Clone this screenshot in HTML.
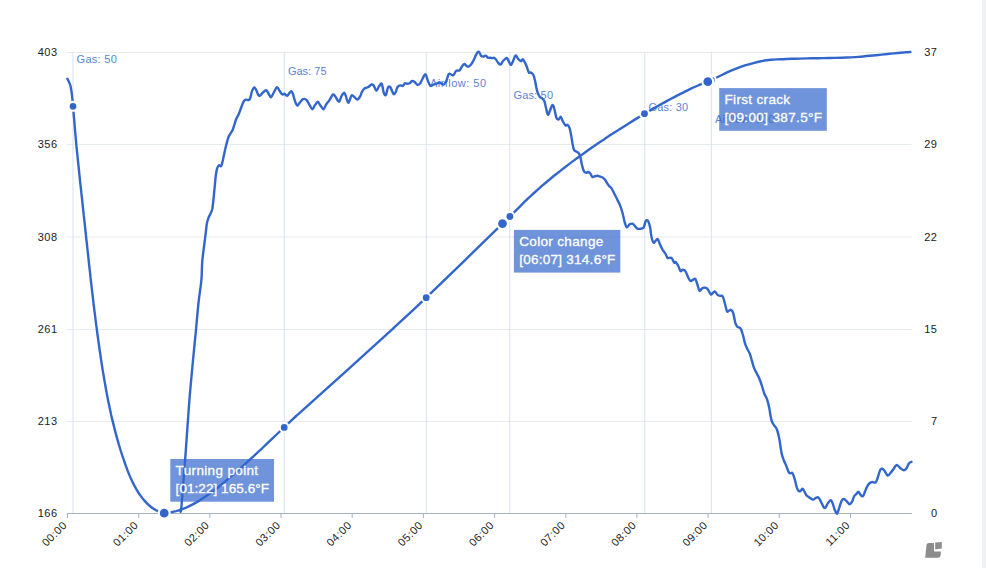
<!DOCTYPE html>
<html><head><meta charset="utf-8"><style>
html,body{margin:0;padding:0;background:#fff;width:986px;height:568px;overflow:hidden}
svg{display:block}
text{font-family:"Liberation Sans",sans-serif}
.ax{font-size:11px;letter-spacing:0.5px;fill:#222}
.ann{font-size:11px;fill:#5b84d6}
.tt{font-size:13.5px;fill:#fff;stroke:#fff;stroke-width:0.3px}
</style></head><body>
<svg width="986" height="568" viewBox="0 0 986 568">
<rect x="982" y="0" width="4" height="568" fill="#eff2f4"/>
<line x1="67" x2="911.5" y1="52.5" y2="52.5" stroke="#e6ebee" stroke-width="1"/>
<line x1="67" x2="911.5" y1="144.5" y2="144.5" stroke="#e6ebee" stroke-width="1"/>
<line x1="67" x2="911.5" y1="237" y2="237" stroke="#e6ebee" stroke-width="1"/>
<line x1="67" x2="911.5" y1="329.5" y2="329.5" stroke="#e6ebee" stroke-width="1"/>
<line x1="67" x2="911.5" y1="421.5" y2="421.5" stroke="#e6ebee" stroke-width="1"/>
<line x1="73" x2="73" y1="52" y2="513" stroke="#d9e2f3" stroke-width="1"/>
<line x1="284.3" x2="284.3" y1="52" y2="513" stroke="#d9e2f3" stroke-width="1"/>
<line x1="426.3" x2="426.3" y1="52" y2="513" stroke="#d9e2f3" stroke-width="1"/>
<line x1="509.8" x2="509.8" y1="52" y2="513" stroke="#d9e2f3" stroke-width="1"/>
<line x1="644.8" x2="644.8" y1="52" y2="513" stroke="#d9e2f3" stroke-width="1"/>
<line x1="711.3" x2="711.3" y1="52" y2="513" stroke="#d9e2f3" stroke-width="1"/>
<line x1="67" x2="911.8" y1="513.5" y2="513.5" stroke="#a3b3bf" stroke-width="1"/>
<line x1="67.5" x2="67.5" y1="513.5" y2="518" stroke="#a3b3bf" stroke-width="1"/>
<line x1="138.7" x2="138.7" y1="513.5" y2="518" stroke="#a3b3bf" stroke-width="1"/>
<line x1="209.9" x2="209.9" y1="513.5" y2="518" stroke="#a3b3bf" stroke-width="1"/>
<line x1="281.0" x2="281.0" y1="513.5" y2="518" stroke="#a3b3bf" stroke-width="1"/>
<line x1="352.2" x2="352.2" y1="513.5" y2="518" stroke="#a3b3bf" stroke-width="1"/>
<line x1="423.4" x2="423.4" y1="513.5" y2="518" stroke="#a3b3bf" stroke-width="1"/>
<line x1="494.6" x2="494.6" y1="513.5" y2="518" stroke="#a3b3bf" stroke-width="1"/>
<line x1="565.8" x2="565.8" y1="513.5" y2="518" stroke="#a3b3bf" stroke-width="1"/>
<line x1="636.9" x2="636.9" y1="513.5" y2="518" stroke="#a3b3bf" stroke-width="1"/>
<line x1="708.1" x2="708.1" y1="513.5" y2="518" stroke="#a3b3bf" stroke-width="1"/>
<line x1="779.3" x2="779.3" y1="513.5" y2="518" stroke="#a3b3bf" stroke-width="1"/>
<line x1="850.5" x2="850.5" y1="513.5" y2="518" stroke="#a3b3bf" stroke-width="1"/>
<text x="57.5" y="56.1" text-anchor="end" class="ax">403</text>
<text x="57.5" y="148.3" text-anchor="end" class="ax">356</text>
<text x="57.5" y="240.6" text-anchor="end" class="ax">308</text>
<text x="57.5" y="332.8" text-anchor="end" class="ax">261</text>
<text x="57.5" y="425.1" text-anchor="end" class="ax">213</text>
<text x="57.5" y="517.3" text-anchor="end" class="ax">166</text>
<text x="937.5" y="56.1" text-anchor="end" class="ax">37</text>
<text x="937.5" y="148.3" text-anchor="end" class="ax">29</text>
<text x="937.5" y="240.6" text-anchor="end" class="ax">22</text>
<text x="937.5" y="332.8" text-anchor="end" class="ax">15</text>
<text x="937.5" y="425.1" text-anchor="end" class="ax">7</text>
<text x="937.5" y="517.3" text-anchor="end" class="ax">0</text>
<text transform="translate(64.8,523) rotate(-45)" text-anchor="end" class="ax" dy="4">00:00</text>
<text transform="translate(136.0,523) rotate(-45)" text-anchor="end" class="ax" dy="4">01:00</text>
<text transform="translate(207.2,523) rotate(-45)" text-anchor="end" class="ax" dy="4">02:00</text>
<text transform="translate(278.3,523) rotate(-45)" text-anchor="end" class="ax" dy="4">03:00</text>
<text transform="translate(349.5,523) rotate(-45)" text-anchor="end" class="ax" dy="4">04:00</text>
<text transform="translate(420.7,523) rotate(-45)" text-anchor="end" class="ax" dy="4">05:00</text>
<text transform="translate(491.9,523) rotate(-45)" text-anchor="end" class="ax" dy="4">06:00</text>
<text transform="translate(563.1,523) rotate(-45)" text-anchor="end" class="ax" dy="4">07:00</text>
<text transform="translate(634.2,523) rotate(-45)" text-anchor="end" class="ax" dy="4">08:00</text>
<text transform="translate(705.4,523) rotate(-45)" text-anchor="end" class="ax" dy="4">09:00</text>
<text transform="translate(776.6,523) rotate(-45)" text-anchor="end" class="ax" dy="4">10:00</text>
<text transform="translate(847.8,523) rotate(-45)" text-anchor="end" class="ax" dy="4">11:00</text>
<text x="76.6" y="63.1" class="ann" textLength="40.2" lengthAdjust="spacing">Gas: 50</text>
<text x="287.9" y="75.0" class="ann" textLength="38.6" lengthAdjust="spacing">Gas: 75</text>
<text x="429.9" y="87.0" class="ann" textLength="56.1" lengthAdjust="spacing">Airflow: 50</text>
<text x="513.4" y="98.9" class="ann" textLength="39.6" lengthAdjust="spacing">Gas: 50</text>
<text x="648.4" y="110.9" class="ann" textLength="39.7" lengthAdjust="spacing">Gas: 30</text>
<text x="714.9" y="122.8" class="ann" textLength="59.8" lengthAdjust="spacing">Airflow: 100</text>
<path d="M180.3,510.4 C180.4,510.3 180.6,514.1 181.1,509.8 C181.6,505.5 182.3,495.8 183.2,484.5 C184.1,473.2 185.4,456.3 186.4,442.2 C187.4,428.1 188.3,413.6 189.4,400.0 C190.5,386.4 191.9,372.2 193.0,360.3 C194.1,348.4 195.2,338.5 196.1,328.6 C197.0,318.7 197.8,309.2 198.7,301.1 C199.6,293.0 200.8,286.7 201.4,280.0 C202.0,273.3 201.7,268.2 202.3,260.9 C203.0,253.6 204.6,242.5 205.3,236.3 C206.1,230.2 206.3,227.1 206.8,224.0 C207.3,220.9 207.6,220.3 208.5,217.8 C209.4,215.3 211.2,213.5 212.2,209.2 C213.1,204.9 213.6,197.7 214.2,191.9 C214.8,186.1 215.4,178.5 215.9,174.6 C216.4,170.7 216.6,170.1 217.1,168.5 C217.6,166.9 218.2,165.6 218.9,165.2 C219.6,164.8 220.5,166.9 221.2,166.0 C221.9,165.1 222.2,163.0 222.9,159.9 C223.6,156.8 224.7,151.2 225.6,147.5 C226.5,143.8 227.5,140.0 228.2,137.8 C228.9,135.6 229.3,135.6 230.0,134.3 C230.7,133.0 231.9,131.5 232.6,129.9 C233.3,128.3 233.8,126.4 234.4,124.6 C235.0,122.8 235.4,121.0 236.1,119.3 C236.8,117.5 237.9,116.1 238.8,114.1 C239.7,112.0 240.6,109.1 241.4,107.0 C242.2,104.9 243.0,102.6 243.7,101.4 C244.4,100.2 245.0,99.8 245.8,99.6 C246.6,99.4 247.8,100.2 248.5,100.0 C249.2,99.8 249.6,99.7 250.2,98.2 C250.8,96.7 251.3,92.9 252.0,91.1 C252.7,89.3 253.4,87.9 254.1,87.6 C254.8,87.3 255.2,88.2 255.9,89.4 C256.6,90.6 257.5,93.7 258.2,94.7 C258.9,95.7 259.2,95.9 259.9,95.6 C260.6,95.3 261.6,93.8 262.6,92.9 C263.6,92.0 265.1,90.2 266.1,90.3 C267.1,90.4 267.9,92.6 268.7,93.8 C269.5,95.0 270.1,97.6 271.0,97.3 C271.9,97.0 273.0,93.7 274.0,92.0 C275.0,90.3 276.1,87.4 277.0,87.1 C277.9,86.8 278.5,89.1 279.3,90.3 C280.1,91.5 281.1,93.7 282.0,94.3 C282.9,94.9 283.8,93.5 284.6,93.8 C285.5,94.1 286.3,96.0 287.1,95.9 C287.9,95.8 288.5,94.1 289.2,93.3 C289.9,92.5 290.7,91.1 291.3,91.2 C291.9,91.3 292.3,92.1 292.9,93.8 C293.5,95.5 294.3,99.2 295.0,101.2 C295.7,103.2 296.5,105.2 297.2,105.5 C297.9,105.8 298.3,104.4 299.3,103.3 C300.3,102.2 301.8,99.6 303.0,99.1 C304.2,98.6 305.6,99.1 306.7,100.2 C307.8,101.3 308.8,104.0 309.8,105.5 C310.8,107.0 311.6,109.3 312.5,109.2 C313.4,109.1 314.2,106.1 315.1,104.9 C316.0,103.7 316.9,101.7 317.8,101.8 C318.7,101.9 319.4,104.3 320.4,105.5 C321.4,106.7 322.6,109.4 323.6,109.2 C324.6,109.0 325.2,105.9 326.2,104.4 C327.2,102.9 328.2,101.9 329.4,100.2 C330.5,98.5 332.1,94.9 333.1,94.4 C334.2,93.9 334.7,95.8 335.7,97.0 C336.7,98.2 337.9,102.0 338.9,101.8 C339.9,101.6 340.7,97.4 341.6,95.9 C342.5,94.4 343.5,92.8 344.2,92.8 C344.9,92.8 345.1,94.2 345.8,95.9 C346.5,97.6 347.4,102.9 348.4,102.8 C349.4,102.7 350.5,96.3 351.6,95.4 C352.7,94.5 353.8,96.8 354.8,97.5 C355.8,98.2 356.5,99.8 357.4,99.6 C358.3,99.4 359.3,97.8 360.1,96.5 C360.9,95.2 361.3,93.1 362.1,91.7 C362.9,90.3 363.8,89.0 364.8,88.3 C365.8,87.6 366.8,87.9 367.9,87.3 C369.0,86.7 370.6,84.8 371.6,84.5 C372.6,84.2 372.9,84.4 373.7,85.4 C374.5,86.4 375.5,90.5 376.4,90.7 C377.3,90.9 378.1,87.6 379.0,86.4 C379.9,85.2 380.9,82.7 381.7,83.8 C382.5,84.9 383.1,90.9 383.8,92.8 C384.5,94.7 385.2,95.8 385.9,94.9 C386.6,94.0 387.3,88.8 388.0,87.5 C388.7,86.2 389.4,86.4 390.1,87.0 C390.8,87.6 391.6,90.0 392.2,91.2 C392.8,92.4 393.2,94.3 393.8,94.4 C394.4,94.5 395.3,92.9 395.9,91.7 C396.5,90.5 396.8,88.0 397.5,87.0 C398.2,86.0 399.3,85.6 400.2,85.4 C401.1,85.2 402.0,86.2 402.8,85.9 C403.6,85.6 404.2,83.7 404.9,83.3 C405.6,82.9 406.2,83.8 407.0,83.8 C407.8,83.8 408.9,83.8 409.7,83.3 C410.5,82.8 411.0,81.4 411.8,81.1 C412.6,80.8 413.4,81.1 414.4,81.7 C415.4,82.3 416.6,84.5 417.6,84.8 C418.6,85.1 419.5,84.3 420.3,83.3 C421.1,82.3 421.5,80.5 422.4,79.0 C423.3,77.5 424.6,74.1 425.5,74.3 C426.4,74.5 426.8,78.0 427.6,79.9 C428.4,81.8 429.3,84.9 430.3,85.7 C431.3,86.5 432.4,84.9 433.5,84.6 C434.6,84.2 435.6,83.9 436.6,83.6 C437.7,83.2 438.7,82.3 439.8,82.5 C440.9,82.7 442.4,84.8 443.5,84.6 C444.6,84.4 445.2,83.2 446.1,81.5 C447.0,79.8 447.9,75.2 448.8,74.1 C449.7,72.9 450.6,74.4 451.4,74.6 C452.2,74.8 452.7,75.7 453.5,75.1 C454.3,74.5 455.2,71.7 456.2,70.9 C457.2,70.1 458.5,71.0 459.4,70.4 C460.3,69.8 460.7,68.3 461.5,67.2 C462.3,66.1 463.3,64.3 464.1,64.0 C464.9,63.7 465.5,65.1 466.2,65.6 C466.9,66.0 467.5,66.9 468.3,66.7 C469.1,66.5 470.1,65.7 471.0,64.6 C471.9,63.5 472.8,61.8 473.6,60.3 C474.4,58.8 475.0,57.0 475.7,55.6 C476.4,54.2 477.3,52.4 477.9,51.9 C478.5,51.4 478.9,51.8 479.4,52.4 C479.9,53.0 480.4,54.9 481.0,55.6 C481.6,56.3 482.3,56.6 483.1,56.6 C483.9,56.6 485.0,55.4 485.8,55.6 C486.6,55.8 487.2,57.4 487.9,57.7 C488.6,58.1 489.3,57.6 490.0,57.7 C490.7,57.8 491.5,58.2 492.1,58.2 C492.7,58.2 493.1,57.5 493.7,57.7 C494.3,57.9 495.1,58.5 495.8,59.3 C496.5,60.1 497.1,61.5 497.9,62.4 C498.7,63.3 499.8,64.8 500.6,64.6 C501.4,64.4 501.9,62.3 502.8,61.2 C503.8,60.1 505.5,58.4 506.3,58.0 C507.1,57.6 507.0,58.0 507.7,59.1 C508.4,60.2 509.8,64.2 510.6,64.7 C511.4,65.2 511.9,63.4 512.7,61.9 C513.5,60.4 514.6,56.1 515.5,55.6 C516.4,55.1 517.4,58.2 518.3,59.1 C519.2,60.0 520.4,61.2 521.1,61.2 C521.9,61.2 522.2,59.0 522.8,59.1 C523.4,59.2 523.9,60.6 524.6,61.9 C525.3,63.2 526.1,65.0 526.8,66.8 C527.5,68.6 528.2,71.5 528.9,72.5 C529.6,73.5 530.2,72.0 531.0,72.5 C531.8,73.0 532.8,73.8 533.5,75.3 C534.2,76.8 534.6,79.1 535.2,81.6 C535.8,84.1 536.2,87.6 536.9,90.1 C537.6,92.6 538.5,95.0 539.4,96.4 C540.3,97.8 541.5,97.7 542.3,98.5 C543.1,99.3 543.8,99.9 544.4,101.3 C545.0,102.7 545.2,104.8 545.8,107.0 C546.4,109.2 547.2,114.1 547.9,114.7 C548.6,115.3 549.2,112.1 550.0,110.5 C550.8,108.9 551.7,105.2 552.4,104.9 C553.1,104.6 553.6,106.3 554.2,108.4 C554.9,110.5 555.6,115.6 556.3,117.5 C557.0,119.4 557.8,119.7 558.5,119.6 C559.2,119.5 560.1,116.5 560.8,116.8 C561.5,117.1 562.0,119.8 562.8,121.3 C563.6,122.8 564.8,125.0 565.6,125.6 C566.4,126.2 567.0,124.3 567.7,124.9 C568.4,125.5 569.3,127.2 569.9,129.1 C570.5,131.0 570.8,133.5 571.3,136.1 C571.8,138.7 572.2,142.2 572.7,144.6 C573.2,146.9 573.4,149.0 574.1,150.2 C574.8,151.4 576.1,151.3 576.9,151.9 C577.7,152.5 578.4,152.8 579.0,153.7 C579.6,154.6 579.9,155.5 580.4,157.3 C580.9,159.1 581.2,162.0 581.8,164.3 C582.4,166.6 583.2,169.9 583.9,171.3 C584.6,172.7 585.4,172.6 586.1,172.7 C586.8,172.8 587.5,171.9 588.2,172.0 C588.9,172.1 589.6,172.7 590.3,173.5 C591.0,174.3 591.7,176.5 592.4,177.0 C593.1,177.5 593.7,176.5 594.5,176.3 C595.3,176.1 596.4,175.8 597.3,175.8 C598.2,175.8 599.1,176.2 600.1,176.5 C601.1,176.8 602.2,177.1 603.0,177.7 C603.8,178.2 604.4,178.9 605.1,179.8 C605.8,180.7 606.5,182.2 607.2,183.3 C607.9,184.4 608.6,185.3 609.3,186.1 C610.0,186.9 610.6,187.0 611.4,188.2 C612.2,189.4 613.3,191.7 614.2,193.5 C615.1,195.3 616.1,197.2 617.0,199.1 C617.9,201.0 618.9,202.3 619.8,204.7 C620.7,207.0 621.8,210.3 622.6,213.2 C623.4,216.1 624.0,220.0 624.7,222.3 C625.4,224.7 626.0,227.0 626.8,227.3 C627.6,227.7 628.6,225.0 629.6,224.4 C630.6,223.8 631.5,223.3 632.5,223.7 C633.5,224.0 634.5,225.7 635.3,226.5 C636.1,227.3 636.5,228.3 637.4,228.7 C638.3,229.1 639.8,228.9 640.9,228.7 C642.0,228.5 642.9,228.6 643.7,227.3 C644.5,226.0 645.1,222.0 645.8,220.9 C646.5,219.8 647.3,219.8 648.0,220.9 C648.7,222.0 649.5,224.6 650.1,227.3 C650.7,230.0 650.9,234.5 651.5,237.1 C652.1,239.7 652.9,242.1 653.6,242.7 C654.3,243.3 655.0,241.2 655.7,240.6 C656.4,240.0 657.1,238.6 657.8,239.2 C658.5,239.8 659.1,242.4 659.9,244.2 C660.7,246.0 661.8,248.2 662.7,249.8 C663.7,251.4 664.8,252.6 665.6,254.0 C666.4,255.4 667.0,257.6 667.7,258.2 C668.4,258.8 669.2,257.6 669.9,257.7 C670.6,257.8 671.3,257.7 672.0,258.5 C672.7,259.3 673.6,262.1 674.2,262.7 C674.8,263.3 674.9,261.4 675.6,262.0 C676.3,262.6 677.6,264.7 678.4,266.2 C679.2,267.7 679.8,270.5 680.5,271.1 C681.2,271.7 681.8,269.7 682.6,269.7 C683.4,269.7 684.5,269.8 685.4,271.1 C686.3,272.4 687.4,275.9 688.2,277.5 C689.0,279.1 689.6,280.6 690.4,281.0 C691.2,281.4 692.4,280.0 693.2,279.6 C694.0,279.2 694.6,278.1 695.3,278.9 C696.0,279.7 696.7,282.5 697.4,284.5 C698.1,286.5 698.8,290.1 699.5,290.8 C700.2,291.5 700.9,289.2 701.6,288.7 C702.3,288.2 702.9,287.8 703.7,287.7 C704.5,287.6 705.7,287.5 706.5,288.0 C707.3,288.5 708.0,289.7 708.7,290.8 C709.4,291.9 710.1,294.0 710.8,294.4 C711.5,294.8 712.2,293.5 712.9,293.0 C713.6,292.5 714.2,291.1 715.0,291.5 C715.8,291.9 716.9,294.4 717.8,295.1 C718.7,295.8 719.8,295.6 720.6,295.8 C721.4,296.0 722.0,295.2 722.7,296.5 C723.4,297.8 724.2,301.0 724.9,303.5 C725.6,306.0 726.3,310.1 727.0,311.3 C727.7,312.5 728.4,310.8 729.1,310.6 C729.8,310.4 730.5,309.4 731.2,309.9 C731.9,310.4 732.6,311.2 733.3,313.4 C734.0,315.6 734.7,321.0 735.4,323.2 C736.1,325.4 736.7,326.0 737.5,326.8 C738.3,327.6 739.5,327.0 740.4,328.2 C741.3,329.4 742.0,331.6 742.7,334.1 C743.5,336.6 744.2,340.9 744.9,343.2 C745.6,345.5 746.2,346.4 747.0,348.2 C747.8,350.0 749.0,351.7 749.8,353.8 C750.6,355.9 751.2,358.5 751.9,360.8 C752.6,363.1 753.2,365.8 754.0,367.9 C754.8,370.0 755.9,371.6 756.8,373.5 C757.7,375.4 758.8,377.2 759.6,379.2 C760.4,381.2 761.1,383.3 761.8,385.5 C762.5,387.7 763.4,390.9 763.9,392.5 C764.4,394.1 764.4,393.9 764.9,395.0 C765.4,396.1 766.3,397.1 767.0,399.2 C767.7,401.3 768.6,404.9 769.2,407.7 C769.8,410.5 770.1,413.8 770.6,416.1 C771.1,418.5 771.4,420.3 772.0,421.8 C772.6,423.3 773.3,424.0 774.1,425.3 C774.9,426.6 776.1,427.5 776.9,429.5 C777.7,431.5 778.4,434.6 779.0,437.3 C779.6,440.0 779.9,442.9 780.4,445.7 C780.9,448.5 781.2,451.7 781.8,454.2 C782.4,456.7 783.2,458.6 783.9,460.5 C784.6,462.4 785.4,463.5 786.1,465.4 C786.9,467.2 787.7,470.3 788.4,471.6 C789.1,472.9 789.5,473.1 790.1,473.3 C790.7,473.5 791.5,472.3 792.1,472.7 C792.7,473.1 793.1,474.2 793.6,475.6 C794.1,477.0 794.7,479.2 795.3,481.3 C795.9,483.4 796.4,486.6 797.0,488.2 C797.6,489.8 798.1,490.5 798.7,491.0 C799.3,491.5 799.8,491.4 800.4,491.0 C801.0,490.6 801.8,488.9 802.4,488.8 C803.0,488.7 803.3,489.5 803.9,490.5 C804.5,491.5 805.4,493.9 806.2,495.0 C807.1,496.1 807.9,496.5 809.0,497.3 C810.1,498.1 811.9,499.5 813.0,499.6 C814.1,499.7 815.0,498.3 815.9,497.9 C816.8,497.5 817.5,497.0 818.2,497.3 C818.9,497.6 819.2,498.5 819.9,499.6 C820.6,500.8 821.5,502.9 822.2,504.2 C822.9,505.5 823.3,507.1 823.9,507.6 C824.5,508.1 824.9,508.1 825.6,507.4 C826.3,506.6 827.0,504.3 827.9,503.1 C828.8,501.9 830.0,500.2 830.8,500.2 C831.6,500.2 831.8,501.5 832.5,503.1 C833.2,504.7 834.0,508.1 834.8,509.9 C835.6,511.6 836.4,514.0 837.1,513.6 C837.9,513.2 838.5,509.7 839.3,507.6 C840.0,505.5 840.8,502.2 841.6,500.8 C842.4,499.4 843.0,498.9 843.9,499.0 C844.8,499.1 845.8,500.4 846.8,501.3 C847.8,502.2 848.8,504.1 849.6,504.2 C850.5,504.3 851.1,503.2 851.9,501.9 C852.7,500.6 853.4,497.5 854.2,496.2 C855.0,494.9 855.8,494.7 856.5,493.9 C857.2,493.1 857.6,491.5 858.2,491.6 C858.9,491.7 859.6,493.8 860.4,494.6 C861.2,495.4 862.1,496.7 862.9,496.2 C863.7,495.7 864.3,493.1 865.0,491.5 C865.7,489.9 866.3,488.1 867.1,486.7 C867.9,485.3 868.9,483.8 869.8,483.0 C870.7,482.2 871.4,482.1 872.4,482.0 C873.4,481.9 874.7,483.2 875.6,482.5 C876.5,481.8 876.9,479.8 877.7,477.7 C878.5,475.6 879.5,471.3 880.3,469.8 C881.1,468.3 881.8,468.6 882.5,468.8 C883.2,469.0 883.7,469.8 884.6,470.9 C885.5,472.0 886.7,475.2 887.7,475.6 C888.7,476.0 889.5,474.0 890.4,473.0 C891.3,472.0 892.2,470.9 893.0,469.8 C893.8,468.7 894.4,467.4 895.1,466.6 C895.8,465.8 896.3,464.8 897.2,465.1 C898.1,465.4 899.3,467.3 900.4,468.2 C901.5,469.1 902.6,470.2 903.6,470.3 C904.6,470.4 905.3,469.9 906.2,468.8 C907.1,467.7 908.0,464.7 908.9,463.5 C909.8,462.3 911.1,462.0 911.5,461.7" fill="none" stroke="#3366cc" stroke-width="2.4" stroke-linejoin="round" stroke-linecap="round"/>
<path d="M67.0,77.9 C67.5,79.1 69.4,82.4 70.2,84.8 C70.9,87.3 71.2,89.8 71.6,92.4 C72.0,94.9 72.2,97.5 72.5,100.1 C72.7,102.7 73.0,105.3 73.2,107.9 C73.4,110.5 73.6,113.0 73.8,115.6 C74.1,118.2 74.3,120.8 74.5,123.4 C74.7,126.0 74.9,128.5 75.1,131.1 C75.4,133.7 75.6,136.3 75.8,138.8 C76.1,141.4 76.3,144.0 76.5,146.6 C76.8,149.1 77.0,151.7 77.3,154.2 C77.6,156.8 77.8,159.4 78.1,161.9 C78.3,164.5 78.6,167.1 78.9,169.6 C79.1,172.2 79.4,174.8 79.7,177.3 C79.9,179.9 80.2,182.4 80.5,185.0 C80.8,187.6 81.1,190.1 81.3,192.7 C81.6,195.2 81.9,197.8 82.2,200.4 C82.5,202.9 82.7,205.5 83.0,208.1 C83.3,210.6 83.6,213.2 83.8,215.7 C84.1,218.3 84.4,220.9 84.7,223.4 C85.0,226.0 85.2,228.6 85.5,231.1 C85.8,233.7 86.1,236.3 86.3,238.8 C86.6,241.4 86.9,244.0 87.2,246.5 C87.4,249.1 87.7,251.7 88.0,254.2 C88.3,256.8 88.6,259.4 88.8,262.0 C89.1,264.5 89.4,267.1 89.7,269.7 C90.0,272.2 90.3,274.8 90.5,277.4 C90.8,279.9 91.1,282.5 91.4,285.1 C91.7,287.7 92.0,290.2 92.3,292.8 C92.6,295.4 92.9,297.9 93.2,300.5 C93.5,303.1 93.8,305.6 94.1,308.2 C94.4,310.8 94.8,313.3 95.1,315.9 C95.4,318.5 95.7,321.0 96.0,323.6 C96.4,326.2 96.7,328.7 97.1,331.3 C97.4,333.8 97.7,336.4 98.1,338.9 C98.5,341.5 98.8,344.1 99.2,346.6 C99.5,349.2 99.9,351.7 100.3,354.3 C100.7,356.8 101.0,359.4 101.4,361.9 C101.8,364.5 102.2,367.0 102.6,369.6 C103.0,372.1 103.5,374.6 103.9,377.2 C104.3,379.7 104.7,382.3 105.2,384.8 C105.6,387.3 106.1,389.9 106.6,392.4 C107.0,394.9 107.5,397.4 108.0,400.0 C108.5,402.5 109.1,405.0 109.6,407.5 C110.1,410.0 110.7,412.6 111.2,415.1 C111.8,417.6 112.4,420.1 113.0,422.6 C113.6,425.1 114.3,427.6 114.9,430.1 C115.5,432.6 116.2,435.1 116.9,437.6 C117.6,440.1 118.3,442.6 119.0,445.1 C119.8,447.5 120.5,450.0 121.3,452.5 C122.1,455.0 122.9,457.5 123.8,459.9 C124.6,462.4 125.5,464.9 126.4,467.3 C127.3,469.8 128.2,472.2 129.2,474.6 C130.2,477.0 131.3,479.4 132.4,481.8 C133.5,484.1 134.7,486.4 136.0,488.6 C137.3,490.9 138.6,493.0 140.1,495.1 C141.6,497.2 143.2,499.2 144.9,501.1 C146.6,503.0 148.4,504.9 150.4,506.5 C152.4,508.1 154.5,509.6 156.8,510.7 C159.1,511.8 162.0,512.9 164.2,513.2 C166.4,513.5 168.2,512.9 170.2,512.5 C172.2,512.2 174.2,511.7 176.2,511.2 C178.2,510.6 180.2,510.0 182.2,509.2 C184.2,508.4 186.2,507.6 188.2,506.6 C190.2,505.7 192.2,504.7 194.2,503.6 C196.2,502.5 198.2,501.3 200.2,500.0 C202.2,498.8 204.2,497.5 206.2,496.1 C208.2,494.7 210.2,493.3 212.2,491.8 C214.2,490.3 216.2,488.7 218.2,487.2 C220.2,485.6 222.2,483.9 224.2,482.3 C226.2,480.6 228.2,478.9 230.2,477.2 C232.2,475.5 234.2,473.7 236.2,472.0 C238.2,470.2 240.2,468.4 242.2,466.6 C244.2,464.8 246.2,463.0 248.2,461.2 C250.2,459.4 252.2,457.5 254.2,455.7 C256.2,453.8 258.2,451.9 260.2,450.1 C262.2,448.2 264.2,446.3 266.2,444.4 C268.2,442.5 270.2,440.6 272.2,438.7 C274.2,436.8 276.2,434.9 278.2,433.0 C280.2,431.1 282.2,429.2 284.2,427.3 C286.2,425.4 288.2,423.5 290.2,421.6 C292.2,419.7 294.6,417.5 296.2,416.0 C297.8,414.5 284.0,427.1 300.0,412.7 C316.0,398.3 371.2,348.5 392.2,329.3 C413.2,310.1 407.8,315.3 426.2,297.7 C444.6,280.1 488.6,237.1 502.5,223.6 C516.5,210.1 507.6,218.7 509.9,216.5 C512.1,214.3 513.6,212.8 516.0,210.4 C518.4,208.1 521.3,205.0 524.0,202.4 C526.7,199.8 529.3,197.2 532.0,194.8 C534.7,192.4 537.3,190.0 540.0,187.7 C542.7,185.4 545.3,183.0 548.0,180.8 C550.7,178.6 553.3,176.4 556.0,174.3 C558.7,172.2 561.3,170.1 564.0,168.0 C566.7,165.9 569.3,163.9 572.0,161.9 C574.7,159.9 577.3,157.9 580.0,156.0 C582.7,154.1 585.3,152.2 588.0,150.3 C590.7,148.4 593.3,146.6 596.0,144.8 C598.7,143.0 601.3,141.2 604.0,139.4 C606.7,137.6 609.3,135.8 612.0,134.1 C614.7,132.3 617.3,130.6 620.0,128.9 C622.7,127.2 625.3,125.6 628.0,123.9 C630.7,122.2 633.3,120.5 636.0,118.9 C638.7,117.3 641.3,115.7 644.0,114.1 C646.7,112.5 649.3,111.0 652.0,109.4 C654.7,107.9 657.3,106.3 660.0,104.8 C662.7,103.3 665.3,101.9 668.0,100.4 C670.7,99.0 673.3,97.5 676.0,96.1 C678.7,94.7 681.3,93.4 684.0,92.1 C686.7,90.8 689.3,89.5 692.0,88.2 C694.7,87.0 697.4,85.7 700.0,84.6 C702.6,83.5 705.0,82.9 707.8,81.7 C710.6,80.5 712.9,79.3 716.7,77.5 C720.5,75.7 726.4,72.7 730.4,70.9 C734.4,69.1 737.2,68.0 740.6,66.8 C744.0,65.6 747.3,64.7 750.7,63.8 C754.1,62.9 757.5,61.9 760.9,61.2 C764.3,60.5 767.6,60.0 771.0,59.7 C774.4,59.4 777.7,59.4 781.1,59.2 C784.5,59.1 788.1,58.9 791.3,58.8 C794.4,58.7 796.6,58.7 800.0,58.6 C803.4,58.5 807.8,58.4 811.7,58.3 C815.6,58.2 819.4,58.2 823.3,58.1 C827.2,58.0 831.1,58.0 835.0,57.9 C838.9,57.8 842.8,57.7 846.7,57.5 C850.6,57.3 854.4,57.2 858.3,56.9 C862.2,56.6 866.1,56.2 870.0,55.8 C873.9,55.4 877.8,55.0 881.7,54.6 C885.6,54.2 889.4,53.8 893.3,53.4 C897.2,53.0 902.0,52.5 905.0,52.3 C908.0,52.0 910.3,52.0 911.4,51.9" fill="none" stroke="#3366cc" stroke-width="2.4" stroke-linejoin="round" stroke-linecap="butt"/>
<circle cx="73" cy="106.3" r="4.45" fill="#3366cc" stroke="#fff" stroke-width="2.1"/>
<circle cx="284.2" cy="427.4" r="4.45" fill="#3366cc" stroke="#fff" stroke-width="2.1"/>
<circle cx="426.2" cy="297.7" r="4.45" fill="#3366cc" stroke="#fff" stroke-width="2.1"/>
<circle cx="509.9" cy="216.5" r="4.45" fill="#3366cc" stroke="#fff" stroke-width="2.1"/>
<circle cx="644.5" cy="113.7" r="4.45" fill="#3366cc" stroke="#fff" stroke-width="2.1"/>
<circle cx="711.3" cy="80.2" r="4.45" fill="#3366cc" stroke="#fff" stroke-width="2.1"/>
<circle cx="164.2" cy="513.2" r="5.45" fill="#3366cc" stroke="#fff" stroke-width="2.1"/>
<circle cx="502.5" cy="223.6" r="5.45" fill="#3366cc" stroke="#fff" stroke-width="2.1"/>
<circle cx="707.8" cy="81.7" r="5.45" fill="#3366cc" stroke="#fff" stroke-width="2.1"/>
<rect x="170.3" y="459" width="103.7" height="42.7" fill="#3366cc" fill-opacity="0.7"/>
<text x="175.6" y="475.0" class="tt" textLength="82.5" lengthAdjust="spacing">Turning point</text>
<text x="175.6" y="493.0" class="tt" textLength="93.3" lengthAdjust="spacing">[01:22] 165.6°F</text>
<rect x="513.9" y="229.9" width="106.4" height="42.7" fill="#3366cc" fill-opacity="0.7"/>
<text x="519.2" y="245.9" class="tt" textLength="84.1" lengthAdjust="spacing">Color change</text>
<text x="519.2" y="263.9" class="tt" textLength="96.1" lengthAdjust="spacing">[06:07] 314.6°F</text>
<rect x="719.2" y="88.1" width="107.6" height="42.7" fill="#3366cc" fill-opacity="0.7"/>
<text x="724.5" y="104.1" class="tt" textLength="65.6" lengthAdjust="spacing">First crack</text>
<text x="724.5" y="122.1" class="tt" textLength="97.6" lengthAdjust="spacing">[09:00] 387.5°F</text>
<g fill="#8c8c8c"><path d="M926.5,544.5 Q927,543 929,543 L934,543 L934,551.5 L941,551.5 L940.5,556 Q940,557.8 938,557.8 L925.2,557.8 Z"/><path d="M935.2,542.6 L941.8,542 L941.8,548.5 L935.2,549.4 Z"/></g>
</svg>
</body></html>
